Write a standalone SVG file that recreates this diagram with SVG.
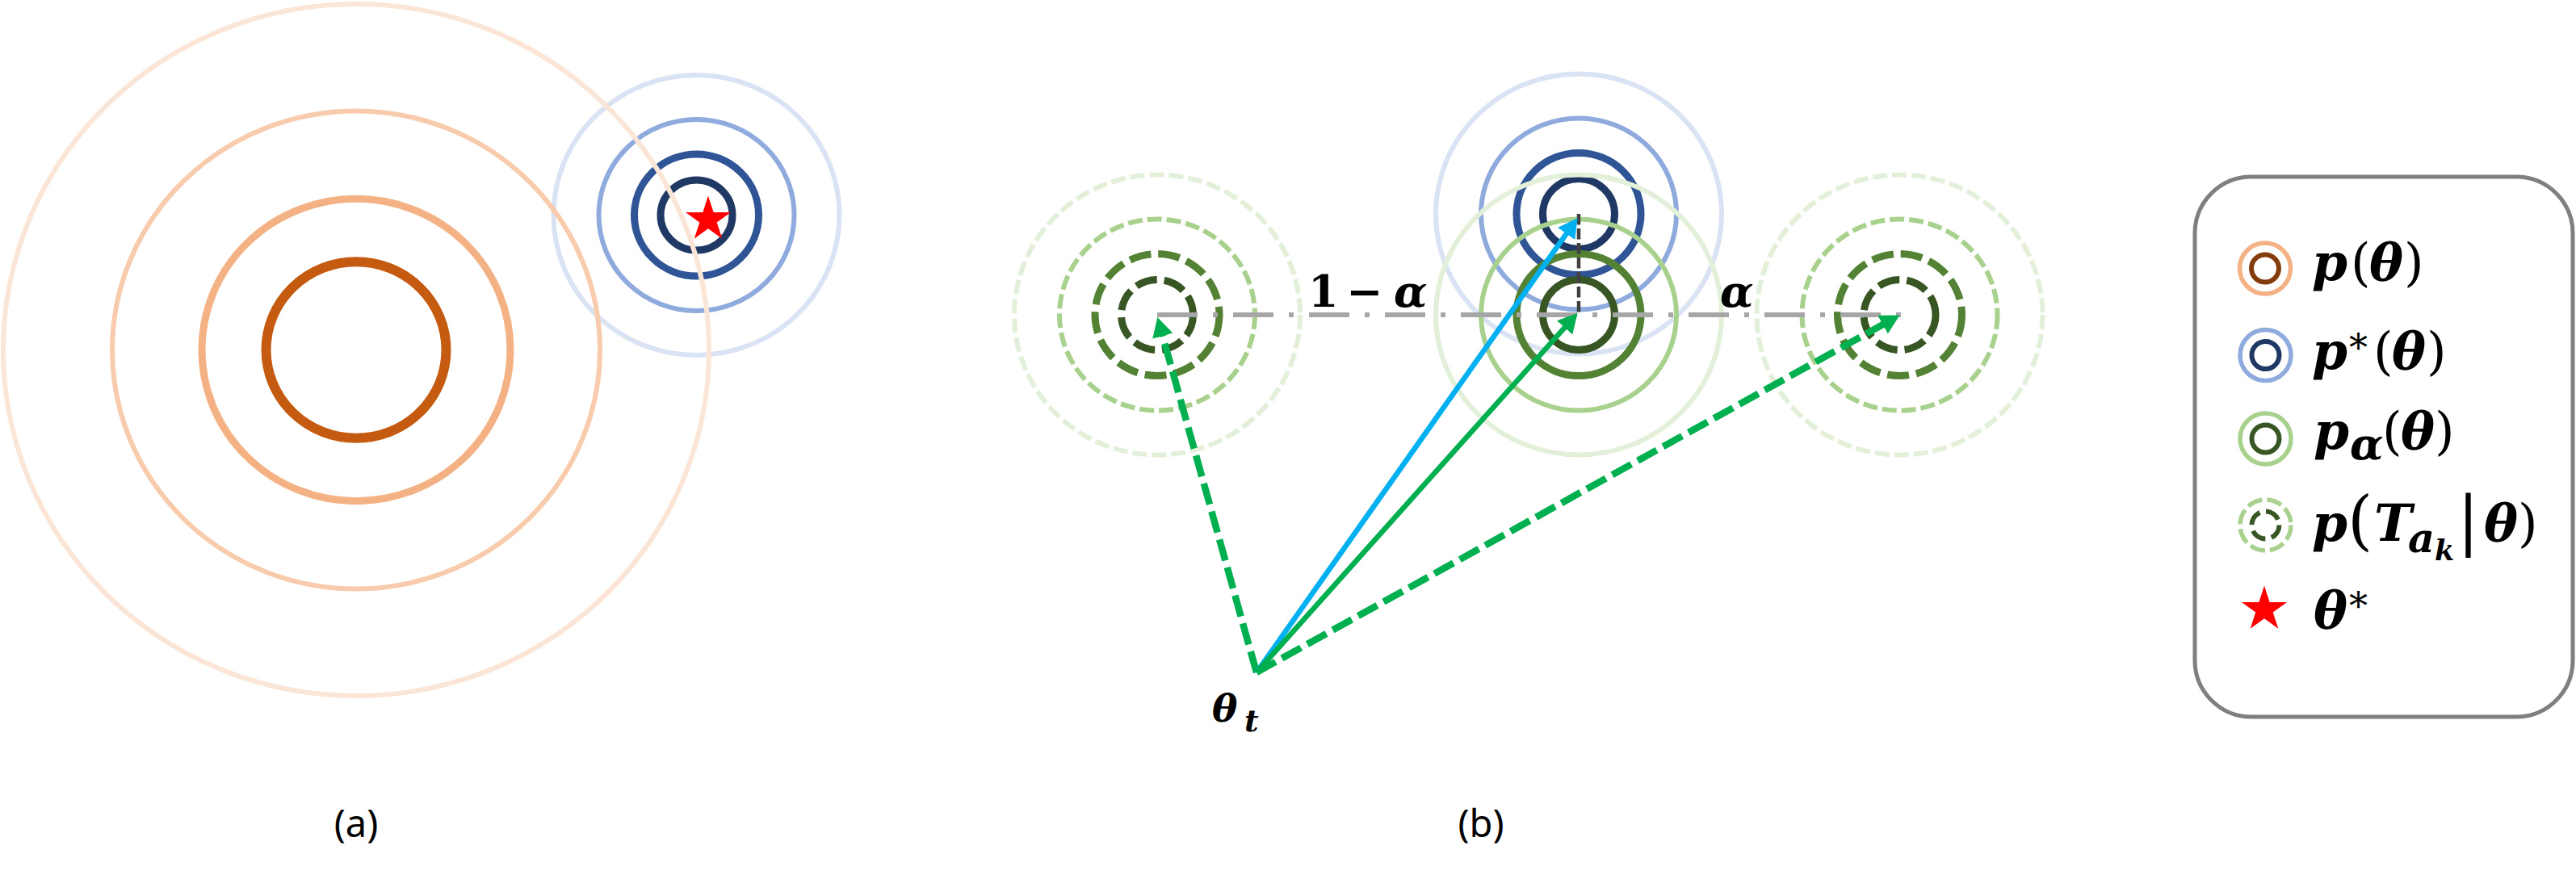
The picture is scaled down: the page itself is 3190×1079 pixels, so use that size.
<svg xmlns="http://www.w3.org/2000/svg" width="3190" height="1079" viewBox="0 0 3190 1079">
<style>
.c{fill:none}
.m{font-family:"DejaVu Serif","Liberation Serif",serif;font-weight:bold;font-style:italic;fill:#000}
.u{font-style:normal;font-weight:normal}
.ub{font-style:normal;font-weight:bold}
.lbl{font-family:"Noto Sans","Liberation Sans",sans-serif;font-size:47px;fill:#000;text-anchor:middle}
.o1{stroke:#C55A11;stroke-width:12}.o2{stroke:#F4B183;stroke-width:9}.o3{stroke:#F8CBAD;stroke-width:6}.o4{stroke:#FBE5D6;stroke-width:6}
.b1{stroke:#203864;stroke-width:9}.b2{stroke:#2F5597;stroke-width:9}.b3{stroke:#8FAADC;stroke-width:6}.b4{stroke:#DAE3F3;stroke-width:6}
.g1{stroke:#375623;stroke-width:9}.g2{stroke:#548235;stroke-width:9}.g3{stroke:#A9D18E;stroke-width:6}.g4{stroke:#E2F0D9;stroke-width:6}
.dw{stroke-dasharray:27 9}.dn{stroke-dasharray:18 6}
.arr{fill:none;stroke-width:6.5}
.arrd{fill:none;stroke:#00B050;stroke-width:8.5;stroke-dasharray:27 9}
</style>
<defs>
<path id="star" d="M0,-29.5 L6.62,-9.12 L28.06,-9.12 L10.72,3.48 L17.34,23.87 L0,11.27 L-17.34,23.87 L-10.72,3.48 L-28.06,-9.12 L-6.62,-9.12 Z" fill="#FF0000"/>
<marker id="mb" viewBox="0 0 24 26" refX="4" refY="13" markerWidth="24" markerHeight="26" markerUnits="userSpaceOnUse" orient="auto"><path d="M0,0 L24,13 L0,26 Z" fill="#00B0F0"/></marker>
<marker id="mg" viewBox="0 0 24 26" refX="4" refY="13" markerWidth="24" markerHeight="26" markerUnits="userSpaceOnUse" orient="auto"><path d="M0,0 L24,13 L0,26 Z" fill="#00B050"/></marker>
</defs>
<rect width="3190" height="1079" fill="#FFFFFF"/>

<!-- Panel (a) -->
<g id="a-pstar">
<ellipse class="c b4" cx="862.5" cy="266.5" rx="177" ry="173.5"/>
<ellipse class="c b3" cx="862.5" cy="266.5" rx="121" ry="118.6"/>
<ellipse class="c b2" cx="862.5" cy="266.5" rx="77" ry="75.5"/>
<ellipse class="c b1" cx="862.5" cy="266.5" rx="44.5" ry="43.6"/>
</g>
<g id="a-prior">
<ellipse class="c o4" cx="441" cy="433.5" rx="437" ry="428.5"/>
<ellipse class="c o3" cx="441" cy="433.5" rx="302" ry="296"/>
<ellipse class="c o2" cx="441" cy="433.5" rx="191" ry="187.2"/>
<ellipse class="c o1" cx="441" cy="433.5" rx="111.5" ry="109.3"/>
</g>
<g id="a-theta-star"><use href="#star" x="877" y="272"/></g>
<text id="label-a" class="lbl" x="441" y="1037">(a)</text>

<!-- Panel (b) -->
<g id="b-task-left">
<ellipse class="c g4 dn" cx="1433" cy="390" rx="177" ry="173.5"/>
<ellipse class="c g3 dn" cx="1433" cy="390" rx="121" ry="118.6"/>
<ellipse class="c g2 dw" cx="1433" cy="390" rx="77" ry="75.5"/>
<ellipse class="c g1 dw" cx="1433" cy="390" rx="44.5" ry="43.6"/>
</g>
<g id="b-task-right">
<ellipse class="c g4 dn" cx="2352.5" cy="390" rx="177" ry="173.5"/>
<ellipse class="c g3 dn" cx="2352.5" cy="390" rx="121" ry="118.6"/>
<ellipse class="c g2 dw" cx="2352.5" cy="390" rx="77" ry="75.5"/>
<ellipse class="c g1 dw" cx="2352.5" cy="390" rx="44.5" ry="43.6"/>
</g>
<g id="b-pstar">
<ellipse class="c b4" cx="1955" cy="265" rx="177" ry="173.5"/>
<ellipse class="c b3" cx="1955" cy="265" rx="121" ry="118.6"/>
<ellipse class="c b2" cx="1955" cy="265" rx="77" ry="75.5"/>
<ellipse class="c b1" cx="1955" cy="265" rx="44.5" ry="43.6"/>
</g>
<g id="b-palpha">
<ellipse class="c g4" cx="1955" cy="390" rx="177" ry="173.5"/>
<ellipse class="c g3" cx="1955" cy="390" rx="121" ry="118.6"/>
<ellipse class="c g2" cx="1955" cy="390" rx="77" ry="75.5"/>
<ellipse class="c g1" cx="1955" cy="390" rx="44.5" ry="43.6"/>
</g>

<g id="connectors">
<path d="M1433,390 H2354" fill="none" stroke="#A6A6A6" stroke-width="6" stroke-dasharray="50 19 6 19"/>
<path d="M1955,265 V389" fill="none" stroke="#404040" stroke-width="4.5" stroke-dasharray="13.5 4.5"/>
<path class="arrd" d="M1556,833 L1438.7,412.3" marker-end="url(#mg)"/>
<path class="arrd" d="M1556,833 L2335,400.2" marker-end="url(#mg)"/>
<path class="arr" stroke="#00B0F0" d="M1556,833 L1942,286.3" marker-end="url(#mb)"/>
<path class="arr" stroke="#00B050" d="M1556,833 L1940.2,402.9" marker-end="url(#mg)"/>
</g>

<g id="b-labels">
<text class="m" font-size="54" y="380"><tspan class="ub" x="1620">1</tspan><tspan class="ub" x="1667">−</tspan><tspan x="1726">α</tspan></text>
<text class="m" font-size="54" x="2130" y="380">α</text>
<text class="m" font-size="47" y="894"><tspan x="1501">θ</tspan><tspan font-size="38" x="1541" y="906">t</tspan></text>
</g>
<text id="label-b" class="lbl" x="1834" y="1037">(b)</text>

<!-- Legend -->
<g id="legend">
<rect x="2718" y="219" width="468" height="669" rx="70" ry="70" fill="#FFFFFF" stroke="#7F7F7F" stroke-width="5"/>
<g id="leg-prior">
<circle class="c" cx="2805" cy="332.5" r="31.5" stroke="#F4B183" stroke-width="5.5"/>
<circle class="c" cx="2805" cy="332.5" r="17" stroke="#843C0C" stroke-width="6"/>
<text class="m" font-size="63" y="347"><tspan x="2863">p</tspan><tspan class="u" x="2911">(</tspan><tspan x="2934">θ</tspan><tspan class="u" x="2977">)</tspan></text>
</g>
<g id="leg-pstar">
<circle class="c" cx="2805.5" cy="440" r="31.5" stroke="#8FAADC" stroke-width="5.5"/>
<circle class="c" cx="2805.5" cy="440" r="17" stroke="#203864" stroke-width="6"/>
<text class="m" font-size="63" y="457"><tspan x="2863">p</tspan><tspan class="u" font-size="46" x="2909" y="447">*</tspan><tspan class="u" x="2939" y="457">(</tspan><tspan x="2962">θ</tspan><tspan class="u" x="3005">)</tspan></text>
</g>
<g id="leg-palpha">
<circle class="c" cx="2805.5" cy="543.5" r="31.5" stroke="#A9D18E" stroke-width="5.5"/>
<circle class="c" cx="2805.5" cy="543.5" r="17" stroke="#375623" stroke-width="6"/>
<text class="m" font-size="63" y="556"><tspan x="2865">p</tspan><tspan font-size="54" x="2910" y="569">α</tspan><tspan class="u" x="2950" y="556">(</tspan><tspan x="2973">θ</tspan><tspan class="u" x="3015">)</tspan></text>
</g>
<g id="leg-task">
<circle class="c" cx="2805.5" cy="650.5" r="31.5" stroke="#A9D18E" stroke-width="5.5" stroke-dasharray="19 6"/>
<circle class="c" cx="2805.5" cy="650.5" r="17" stroke="#375623" stroke-width="6" stroke-dasharray="19 7.7"/>
<text class="m" font-size="63" y="670"><tspan x="2863">p</tspan><tspan class="u" font-size="80" x="2907" y="672">(</tspan><tspan x="2940" y="670">T</tspan><tspan font-size="51" x="2982" y="684">a</tspan><tspan font-size="35" x="3015" y="694">k</tspan><tspan class="u" font-size="80" x="3043" y="672">|</tspan><tspan x="3076" y="670">θ</tspan><tspan class="u" x="3118">)</tspan></text>
</g>
<g id="leg-theta-star">
<use href="#star" x="2804" y="755"/>
<text class="m" font-size="63" y="778"><tspan x="2865">θ</tspan><tspan class="u" font-size="46" x="2909" y="767">*</tspan></text>
</g>
</g>
</svg>
